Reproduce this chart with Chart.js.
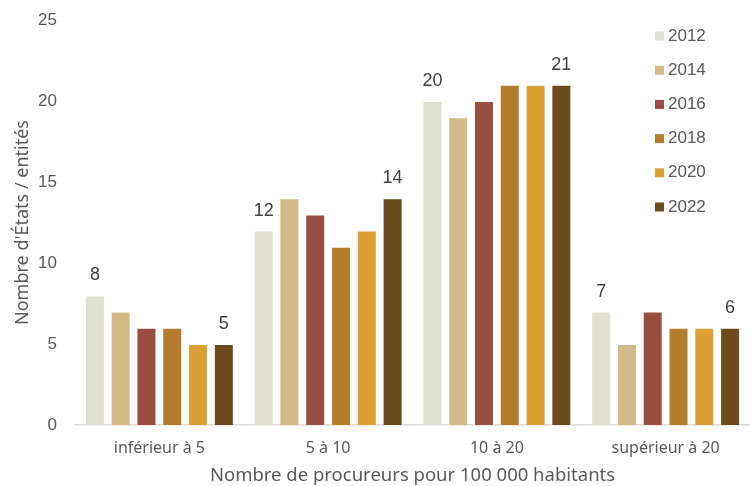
<!DOCTYPE html>
<html>
<head>
<meta charset="utf-8">
<script src="https://cdn.jsdelivr.net/npm/chart.js@4/dist/chart.umd.min.js"></script>
<style>
html,body{margin:0;padding:0;background:#fff;}
#wrap{width:750px;height:486px;position:relative;}
</style>
</head>
<body>
<div id="wrap"><canvas id="c" width="750" height="486"></canvas></div>
<script>
const categories = ['inférieur à 5', '5 à 10', '10 à 20', 'supérieur à 20'];
const years = ['2012', '2014', '2016', '2018', '2020', '2022'];
const v2012 = [8, 12, 20, 7];
const v2014 = [7, 14, 19, 5];
const v2016 = [6, 13, 20, 7];
const v2018 = [6, 11, 21, 6];
const v2020 = [5, 12, 21, 6];
const v2022 = [5, 14, 21, 6];
const yTicks = [0, 5, 10, 15, 20, 25];
const colors = ['#DFDFD2', '#D3BA88', '#9A4E41', '#B37D2D', '#DDA035', '#6C4B1E'];
const seriesValues = [v2012, v2014, v2016, v2018, v2020, v2022];
const labelledSeries = [0, 5];

const FONT = "'Liberation Sans', Arial, sans-serif";
const FONT2 = "'Noto Sans', 'Open Sans', sans-serif";

const datasets = years.map((y, i) => ({
  label: y,
  data: seriesValues[i],
  backgroundColor: colors[i],
  borderColor: 'rgba(255,255,255,0.35)',
  borderWidth: 1,
  categoryPercentage: 0.917,
  barPercentage: 0.775
}));

const valueLabels = {
  id: 'valueLabels',
  afterDatasetsDraw(chart) {
    const ctx = chart.ctx;
    ctx.save();
    ctx.font = '18px ' + FONT;
    ctx.fillStyle = '#404040';
    ctx.textAlign = 'center';
    ctx.textBaseline = 'middle';
    labelledSeries.forEach(di => {
      const meta = chart.getDatasetMeta(di);
      meta.data.forEach((bar, j) => {
        ctx.fillText(String(chart.data.datasets[di].data[j]), bar.x, bar.y - 20);
      });
    });
    ctx.restore();
  }
};

const customLegend = {
  id: 'customLegend',
  afterDraw(chart) {
    const ctx = chart.ctx;
    ctx.save();
    ctx.font = '17px ' + FONT;
    ctx.textBaseline = 'middle';
    ctx.textAlign = 'left';
    chart.data.datasets.forEach((ds, i) => {
      const y = 36 + i * 34.2;
      ctx.fillStyle = ds.backgroundColor;
      ctx.fillRect(655, y - 4.5, 9, 9);
      ctx.fillStyle = '#595959';
      ctx.fillText(ds.label, 668, y);
    });
    ctx.restore();
  }
};

new Chart(document.getElementById('c'), {
  type: 'bar',
  data: { labels: categories, datasets },
  options: {
    responsive: false,
    animation: false,
    layout: { autoPadding: false, padding: { left: 0, right: 0, top: 20, bottom: 0 } },
    plugins: {
      legend: { display: false },
      tooltip: { enabled: false }
    },
    scales: {
      x: {
        grid: { display: false, drawTicks: false },
        border: { display: true, color: '#D9D9D9', width: 1.5 },
        ticks: { font: { family: FONT2, size: 16 }, color: '#595959', padding: 14 },
        title: {
          display: true,
          text: 'Nombre de procureurs pour 100 000 habitants',
          font: { family: FONT2, size: 18.5 },
          color: '#595959',
          padding: { top: 0, bottom: -1 }
        },
        afterFit(scale) { scale.height = 61; }
      },
      y: {
        min: 0, max: 25,
        afterBuildTicks(scale) { scale.ticks = yTicks.map(v => ({ value: v })); },
        grid: { display: false, drawTicks: true, tickLength: 18 },
        border: { display: false },
        ticks: { font: { family: FONT, size: 17 }, color: '#595959', padding: 0 },
        title: {
          display: true,
          text: "Nombre d'États / entités",
          font: { family: FONT2, size: 18 },
          color: '#595959',
          padding: { top: 12, bottom: 0 }
        },
        afterFit(scale) { scale.width = 75; }
      }
    }
  },
  plugins: [valueLabels, customLegend]
});
</script>
</body>
</html>
